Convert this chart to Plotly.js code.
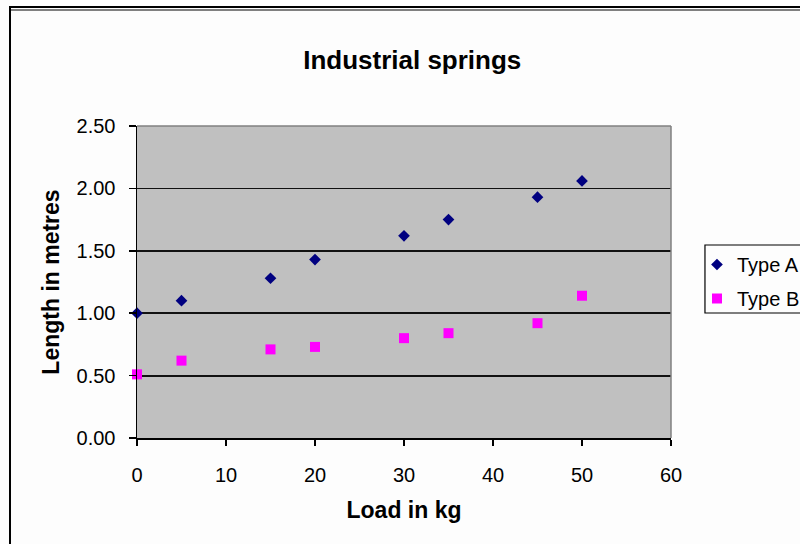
<!DOCTYPE html>
<html>
<head>
<meta charset="utf-8">
<script src="https://cdn.plot.ly/plotly-3.0.1.min.js"></script>
<style>
  html, body { margin: 0; padding: 0; background: #fdfdfd; }
  #wrap { position: relative; width: 800px; height: 544px; overflow: hidden; }
  #chart { position: absolute; left: 0; top: 0; width: 800px; height: 544px; }
  .bTop { position: absolute; left: 9px; top: 6px; width: 800px; height: 2px; background: #000; }
  .bTop2 { position: absolute; left: 11px; top: 9px; width: 800px; height: 2px; background: #808080; }
  .bLeft { position: absolute; left: 9px; top: 6px; width: 2px; height: 540px; background: #000; }
</style>
</head>
<body>
<div id="wrap">
  <div id="chart"></div>
  <div class="bTop"></div>
  <div class="bTop2"></div>
  <div class="bLeft"></div>
</div>
<script>
const loadKg = [0, 5, 15, 20, 30, 35, 45, 50];
const typeA = [1.00, 1.10, 1.28, 1.43, 1.62, 1.75, 1.93, 2.06];
const typeB = [0.51, 0.62, 0.71, 0.73, 0.80, 0.84, 0.92, 1.14];
const seriesNames = ["Type A", "Type B"];
const yTicks = [0, 0.5, 1.0, 1.5, 2.0, 2.5];
const xTicks = [0, 10, 20, 30, 40, 50, 60];

const font = "Liberation Sans, Arial, sans-serif";
const L = 136.5, R = 671, T = 126, B = 438, W = 800, H = 544;
const px = v => (v - L) / (R - L);
const py = v => (B - v) / (B - T);

const traces = [
  {
    x: loadKg, y: typeA, name: seriesNames[0], type: "scatter", mode: "markers",
    marker: { symbol: "diamond", size: 9, color: "#000080" },
    legendgroup: "a", cliponaxis: false
  },
  {
    x: loadKg, y: typeB, name: seriesNames[1], type: "scatter", mode: "markers",
    marker: { symbol: "square", size: 10, color: "#FF00FF" },
    legendgroup: "b", cliponaxis: false
  }
];

const layout = {
  width: W, height: H,
  margin: { l: L, r: W - R, t: T, b: H - B, pad: 0, autoexpand: false },
  paper_bgcolor: "#fdfdfd",
  plot_bgcolor: "#C0C0C0",
  font: { family: font, size: 20, color: "#000" },
  title: {
    text: "Industrial springs",
    font: { family: font, size: 26, color: "#000", weight: "bold" },
    x: px(412), xref: "paper", xanchor: "center",
    y: 1 - 60 / H, yref: "container", yanchor: "middle"
  },
  xaxis: {
    range: [0, 60], tickvals: xTicks, ticktext: xTicks.map(String),
    showgrid: false, zeroline: false,
    showline: true, linecolor: "#000", linewidth: 1.5,
    ticks: "outside", ticklen: 6, tickcolor: "#000", tickwidth: 1.5,
    ticklabelstandoff: 12,
    tickfont: { family: font, size: 20, color: "#000" },
    title: { text: "Load in kg", font: { family: font, size: 23, color: "#000", weight: "bold" }, standoff: 17 },
    automargin: false, fixedrange: true
  },
  yaxis: {
    range: [0, 2.5], tickvals: yTicks, ticktext: yTicks.map(v => v.toFixed(2)),
    showgrid: true, gridcolor: "#111", gridwidth: 1.8,
    zeroline: false,
    showline: true, linecolor: "#000", linewidth: 1.5,
    ticks: "outside", ticklen: 7, tickcolor: "#000", tickwidth: 1.5,
    ticklabelstandoff: 9,
    tickfont: { family: font, size: 20, color: "#000" },
    title: { text: "Length in metres", font: { family: font, size: 23, color: "#000", weight: "bold" }, standoff: 10 },
    automargin: false, fixedrange: true
  },
  shapes: [
    { type: "line", xref: "paper", yref: "paper", x0: 0, x1: 1, y0: 1, y1: 1, line: { color: "#808080", width: 1.5 } },
    { type: "line", xref: "paper", yref: "paper", x0: 1, x1: 1, y0: 0, y1: 1, line: { color: "#808080", width: 1.5 } },
    { type: "rect", xref: "paper", yref: "paper", x0: px(705), x1: px(820), y0: py(245), y1: py(313),
      line: { color: "#000", width: 1.2 }, fillcolor: "#fdfdfd", layer: "above" }
  ],
  showlegend: true,
  legend: {
    x: px(697), xanchor: "left",
    y: py(245), yanchor: "top",
    bgcolor: "rgba(0,0,0,0)", borderwidth: 0,
    font: { family: font, size: 20, color: "#000" },
    itemwidth: 30, tracegroupgap: 5
  }
};

Plotly.newPlot("chart", traces, layout, { displayModeBar: false, staticPlot: true });
</script>
</body>
</html>
